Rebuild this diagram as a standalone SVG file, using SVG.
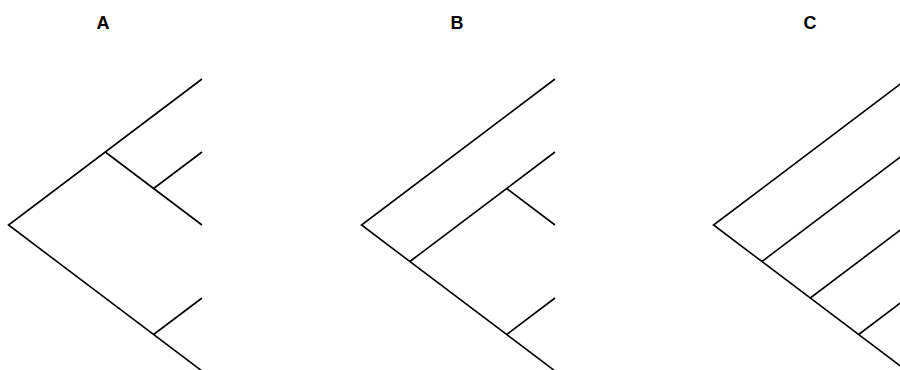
<svg xmlns="http://www.w3.org/2000/svg" width="900" height="370" viewBox="0 0 900 370">
<style>
.e{stroke:#000;stroke-width:1.6;fill:none;stroke-linecap:butt}
.lbl{font-family:"Liberation Sans",Arial,sans-serif;font-weight:bold;font-size:18px;text-anchor:middle;fill:#000}
</style>
<rect width="900" height="370" fill="#fff"/>
<g id="labels">
<text class="lbl" x="103" y="29">A</text>
<text class="lbl" x="457" y="29">B</text>
<text class="lbl" x="810" y="29">C</text>
</g>
<g id="connectors">
<g id="treeA">
<path class="e" d="M202,79 L8.5,225 L202,371"/>
<path class="e" d="M105.25,152 L202,225"/>
<path class="e" d="M153.6,188.5 L202,152"/>
<path class="e" d="M153.6,334.5 L202,298"/>
</g>
<g id="treeB">
<path class="e" d="M555,79 L361.5,225 L555,371"/>
<path class="e" d="M409.9,261.5 L555,152"/>
<path class="e" d="M506.6,188.5 L555,225"/>
<path class="e" d="M506.6,334.5 L555,298"/>
</g>
<g id="treeC">
<path class="e" d="M907,79 L713.5,225 L907,371"/>
<path class="e" d="M761.9,261.5 L907,152"/>
<path class="e" d="M810.25,298 L907,225"/>
<path class="e" d="M858.6,334.5 L907,298"/>
</g>
</g>
</svg>
